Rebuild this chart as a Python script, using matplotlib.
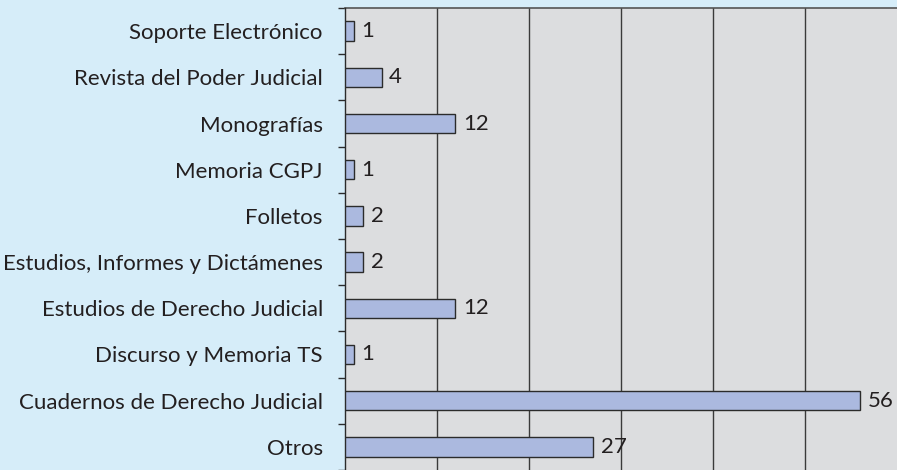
import matplotlib.pyplot as plt
import numpy as np

categories = [
    "Soporte Electrónico",
    "Revista del Poder Judicial",
    "Monografías",
    "Memoria CGPJ",
    "Folletos",
    "Estudios, Informes y Dictámenes",
    "Estudios de Derecho Judicial",
    "Discurso y Memoria TS",
    "Cuadernos de Derecho Judicial",
    "Otros",
]
values = [1, 4, 12, 1, 2, 2, 12, 1, 56, 27]

plt.rcParams["font.family"] = ["Lato", "DejaVu Sans"]

fig = plt.figure(figsize=(8.97, 4.70), dpi=100)
fig.patch.set_facecolor("#d6edf9")
ax = fig.add_axes([345 / 897, 0.0, 1 - 345 / 897, (470 - 8) / 470])
ax.set_facecolor("#dcdddf")

y = np.arange(len(categories))
ax.barh(y, values, height=0.42, color="#abb9df", edgecolor="#2b2b2b", linewidth=1.0, zorder=3)

for yi, v in zip(y, values):
    ax.text(v + 0.8, yi, str(v), va="center", ha="left", fontsize=16, color="#231f20")

ax.set_xlim(0, 60)
ax.set_ylim(len(categories) - 0.5, -0.5)
ax.set_xticks(np.arange(10, 60, 10))
ax.set_xticklabels([])
ax.tick_params(axis="x", length=0)
ax.grid(axis="x", color="#3a3a3a", linewidth=1.0, zorder=1)

ax.set_yticks(y)
ax.set_yticklabels(categories, fontsize=16, color="#231f20")
ax.tick_params(axis="y", which="major", length=0, pad=16)
ax.set_yticks(np.arange(-0.5, len(categories), 1), minor=True)
ax.tick_params(axis="y", which="minor", length=5, width=1, color="#2b2b2b", direction="out")

for s in ["top", "right", "bottom"]:
    ax.spines[s].set_visible(False)
ax.spines["left"].set_color("#2b2b2b")
ax.spines["left"].set_linewidth(1.0)
ax.plot([0, 1], [1, 1], transform=ax.transAxes, color="#555555", linewidth=1.2, clip_on=False)

fig.savefig("out.png", dpi=100, facecolor=fig.get_facecolor())
